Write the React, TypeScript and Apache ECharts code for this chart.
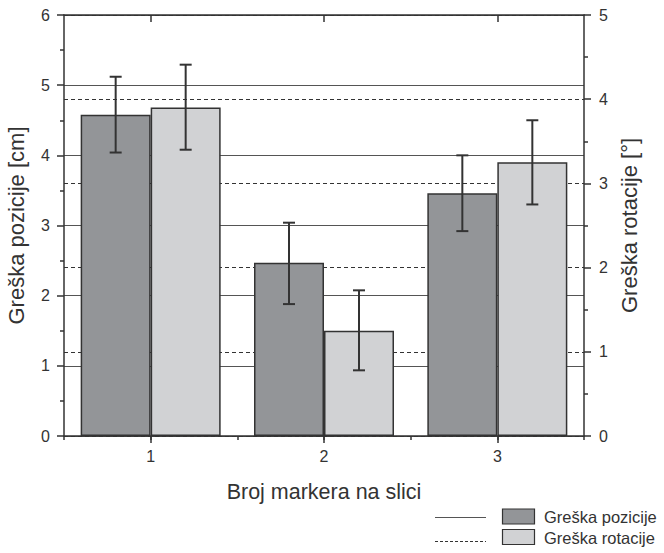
import React, { useEffect, useRef } from "react";
import * as echarts from "echarts";

const categories = ["1", "2", "3"];
const posMean = [4.58, 2.47, 3.46];
const posLow = [4.04, 1.88, 2.92];
const posHigh = [5.12, 3.04, 4.0];
const rotMean = [3.9, 1.25, 3.25];
const rotLow = [3.4, 0.78, 2.75];
const rotHigh = [4.41, 1.73, 3.75];

const posName = "Greška pozicije";
const rotName = "Greška rotacije";

const FONT = "Liberation Sans, Arial, sans-serif";
const INK = "#333333";
const DARK = "#939598";
const LIGHT = "#d1d2d4";
const BAR_W = 70;

function errorSeries(low: number[], high: number[], yAxisIndex: number, side: number) {
  return {
    type: "custom",
    xAxisIndex: 0,
    yAxisIndex,
    z: 10,
    silent: true,
    data: low.map((l, i) => [i, l, high[i]]),
    encode: { x: 0, y: [1, 2] },
    renderItem: (params: any, api: any) => {
      const i = api.value(0);
      const top = api.coord([i, api.value(2)]);
      const bot = api.coord([i, api.value(1)]);
      const x = top[0] + (side * BAR_W) / 2;
      const cap = 6;
      const style = { stroke: INK, lineWidth: 2 };
      return {
        type: "group",
        children: [
          { type: "line", shape: { x1: x, y1: top[1], x2: x, y2: bot[1] }, style },
          { type: "line", shape: { x1: x - cap, y1: top[1], x2: x + cap, y2: top[1] }, style },
          { type: "line", shape: { x1: x - cap, y1: bot[1], x2: x + cap, y2: bot[1] }, style },
        ],
      };
    },
  };
}

export default function App() {
  const ref = useRef<HTMLDivElement>(null);
  useEffect(() => {
    document.body.style.margin = "0";
    const chart = echarts.init(ref.current!, undefined, { renderer: "svg" });
    const labelStyle = { color: INK, fontSize: 16, fontFamily: FONT };
    const legendText = { fill: INK, fontSize: 16.5, fontFamily: FONT, verticalAlign: "middle", align: "left" };
    chart.setOption({
      animation: false,
      backgroundColor: "#ffffff",
      grid: { left: 64, right: 80, top: 15, bottom: 117, outerBoundsMode: "none", containLabel: false },
      xAxis: [
        {
          type: "category",
          data: categories,
          position: "bottom",
          axisLine: { show: true, lineStyle: { color: INK, width: 1.5 } },
          axisTick: { show: true, alignWithLabel: true, length: 7, lineStyle: { color: INK, width: 1.5 } },
          axisLabel: { ...labelStyle, margin: 12 },
          name: "Broj markera na slici",
          nameLocation: "middle",
          nameGap: 45,
          nameTextStyle: { color: INK, fontSize: 21.5, fontFamily: FONT },
        },
        {
          type: "value",
          min: 0.5,
          max: 3.5,
          interval: 0.5,
          position: "bottom",
          axisLine: { show: false },
          axisTick: { show: true, length: 4, lineStyle: { color: INK, width: 1.5 } },
          axisLabel: { show: false },
          splitLine: { show: false },
        },
        {
          type: "category",
          data: categories,
          position: "top",
          axisLine: { show: true, lineStyle: { color: INK, width: 1.5 } },
          axisTick: { show: true, inside: true, alignWithLabel: true, length: 7, lineStyle: { color: INK, width: 1.5 } },
          axisLabel: { show: false },
        },
      ],
      yAxis: [
        {
          type: "value",
          min: 0,
          max: 6,
          interval: 1,
          position: "left",
          axisLine: { show: true, lineStyle: { color: INK, width: 1.5 } },
          axisTick: { show: true, length: 7, lineStyle: { color: INK, width: 1.5 } },
          minorTick: { show: true, splitNumber: 2, length: 4, lineStyle: { color: INK, width: 1.5 } },
          axisLabel: { ...labelStyle, margin: 14 },
          splitLine: { show: true, lineStyle: { color: "#555555", width: 1, type: "solid" } },
          name: "Greška pozicije [cm]",
          nameLocation: "middle",
          nameRotate: 90,
          nameGap: 37,
          nameTextStyle: { color: INK, fontSize: 22, fontFamily: FONT },
        },
        {
          type: "value",
          min: 0,
          max: 5,
          interval: 1,
          position: "right",
          axisLine: { show: true, lineStyle: { color: INK, width: 1.5 } },
          axisTick: { show: true, length: 7, lineStyle: { color: INK, width: 1.5 } },
          minorTick: { show: true, splitNumber: 2, length: 4, lineStyle: { color: INK, width: 1.5 } },
          axisLabel: { ...labelStyle, margin: 15 },
          splitLine: { show: true, lineStyle: { color: INK, width: 1, type: [4, 3] } },
          name: "Greška rotacije [°]",
          nameLocation: "middle",
          nameRotate: 90,
          nameGap: 24,
          nameTextStyle: { color: INK, fontSize: 22, fontFamily: FONT },
        },
      ],
      series: [
        {
          name: posName,
          type: "bar",
          xAxisIndex: 0,
          yAxisIndex: 0,
          data: posMean,
          barWidth: BAR_W,
          barGap: "0%",
          itemStyle: { color: DARK, borderColor: INK, borderWidth: 1.5 },
        },
        {
          name: rotName,
          type: "bar",
          xAxisIndex: 0,
          yAxisIndex: 1,
          data: rotMean,
          barWidth: BAR_W,
          barGap: "0%",
          itemStyle: { color: LIGHT, borderColor: INK, borderWidth: 1.5 },
        },
        errorSeries(posLow, posHigh, 0, -1),
        errorSeries(rotLow, rotHigh, 1, 1),
      ],
      graphic: [
        { type: "line", shape: { x1: 435, y1: 517.5, x2: 486, y2: 517.5 }, style: { stroke: "#555555", lineWidth: 1 } },
        { type: "line", shape: { x1: 435, y1: 541.5, x2: 486, y2: 541.5 }, style: { stroke: INK, lineWidth: 1, lineDash: [3, 2] } },
        { type: "rect", shape: { x: 502.5, y: 509, width: 32, height: 15 }, style: { fill: DARK, stroke: INK, lineWidth: 1.2 } },
        { type: "rect", shape: { x: 502.5, y: 529.5, width: 32, height: 15 }, style: { fill: LIGHT, stroke: INK, lineWidth: 1.2 } },
        { type: "text", x: 544, y: 517, style: { text: posName, ...legendText } },
        { type: "text", x: 544, y: 538, style: { text: rotName, ...legendText } },
      ],
    });
    return () => chart.dispose();
  }, []);
  return <div ref={ref} style={{ width: 664, height: 553 }} />;
}
